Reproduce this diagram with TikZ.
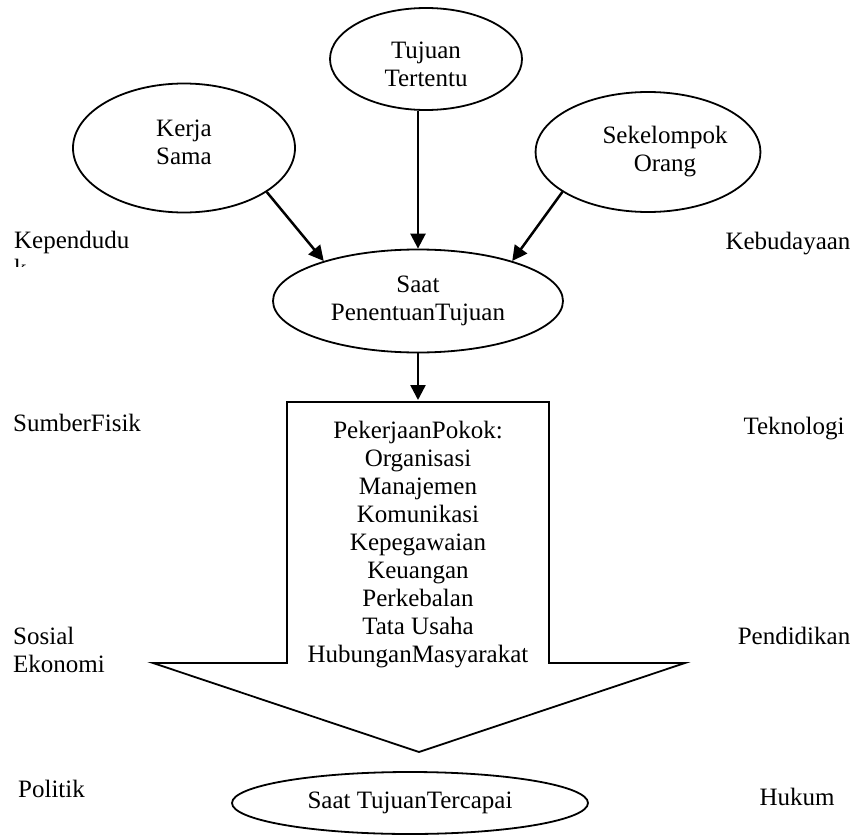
\documentclass[tikz,border=0pt]{standalone}
\usepackage{fontspec}
\setmainfont{Liberation Serif}
\usetikzlibrary{arrows.meta,shapes.geometric}

\begin{document}
\begin{tikzpicture}
  [x=1pt,y=-1pt,
   >={Triangle[length=15pt,width=15pt]},
   every node/.style={font=\fontsize{25}{28}\selectfont},
   oval/.style={ellipse,draw,line width=1.8pt,inner sep=0pt,align=center},
   side/.style={inner sep=0pt},
   link/.style={->,line width=2.5pt}]
  \useasboundingbox (0,0) rectangle (860,835);
  \node[oval,minimum width=192pt,minimum height=102pt,text height=55pt] (tujuan) at (426,59) {Tujuan\\Tertentu};
  \node[oval,minimum width=222pt,minimum height=129pt,text depth=12pt] (kerja) at (184,148) {Kerja\\Sama};
  \node[oval,minimum width=223pt,minimum height=120pt] (sekelompok) at (648,152)
    {\hspace*{34pt}Sekelompok\\\hspace*{34pt}Orang};
  \node[oval,minimum width=290pt,minimum height=103pt] (penentuan) at (418,301) {Saat\\PenentuanTujuan};
  \node[oval,minimum width=356pt,minimum height=62pt] (tercapai) at (410,803) {Saat TujuanTercapai};
  % block arrow
  \draw[line width=1.8pt] (287,663) -- (287,402) -- (549,402) -- (549,663)
    -- (685,663) -- (419,752) -- (153,663) -- cycle;
  \coordinate (pokoktop) at (418,400);
  \node[side,anchor=north,align=center] (pokok) at (418,421)
    {PekerjaanPokok:\\Organisasi\\Manajemen\\Komunikasi\\Kepegawaian\\Keuangan\\Perkebalan\\Tata Usaha\\HubunganMasyarakat};
  \draw[link] (kerja.-28) -- (penentuan.157);
  \draw[link] (tujuan.south -| penentuan.north) -- (penentuan.north);
  \draw[link] (sekelompok.205) -- (penentuan.23);
  \draw[link] (penentuan.south) -- (pokoktop);
  % side labels
  \begin{scope}
    \clip (0,200) rectangle (200,266);
    \node[side,anchor=north west,align=left] (kependudukan) at (14,231) {Kependudu\\k};
  \end{scope}
  \node[side,anchor=base west] (sumber) at (13,431) {SumberFisik};
  \node[side,anchor=west,align=left] (sosial) at (13,650) {Sosial\\Ekonomi};
  \node[side,anchor=base west] (politik) at (18,797) {Politik};
  \node[side,anchor=base] (kebudayaan) at (788,249) {Kebudayaan};
  \node[side,anchor=base] (teknologi)  at (794,434) {Teknologi};
  \node[side,anchor=base] (pendidikan) at (794,644) {Pendidikan};
  \node[side,anchor=base] (hukum)      at (797,805) {Hukum};
\end{tikzpicture}
\end{document}
